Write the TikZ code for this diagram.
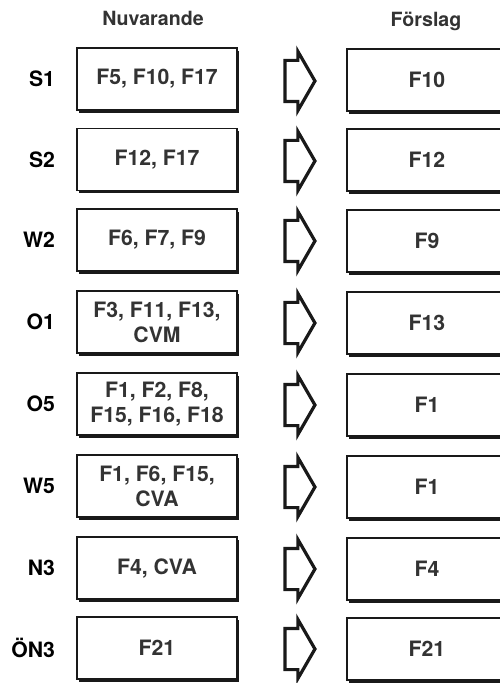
\documentclass[tikz,border=0pt]{standalone}
\usepackage{fontspec}
\setmainfont{TeX Gyre Heros}
\usepackage{tikz}
\usetikzlibrary{shapes.arrows,shadows}

\begin{document}
\begin{tikzpicture}[
  x=0.5pt, y=-0.5pt,
  head/.style={font=\bfseries\fontsize{9.8}{12}\selectfont, text=black!80, anchor=base},
  rowlbl/.style={font=\bfseries\fontsize{10.6}{12.5}\selectfont, anchor=east},
  fbox/.style={rectangle, draw=black!90, line width=0.9pt, fill=white, minimum width=80pt, minimum height=31pt,
    align=center, inner sep=2pt, text=black!80, font=\bfseries\fontsize{10.6}{12.5}\selectfont,
    drop shadow={shadow xshift=0.8pt, shadow yshift=-1.3pt, fill=black!90, opacity=1}},
  bigarr/.style={single arrow, draw=black!90, line width=1.6pt, fill=white, inner xsep=0pt, inner ysep=9.5pt,
    outer sep=0pt, single arrow head extend=4.5pt, single arrow tip angle=120, minimum height=15pt},
]
\useasboundingbox (0,0) rectangle (499,683);

% Headers
\node[head] (hcur) at (153,26) {Nuvarande};
\node[head] (hnew) at (426,27) {Förslag};

% S1
\node[rowlbl] (l1) at (62,79) {S1};
\node[fbox] (c1) at (157,79) {F5, F10, F17};
\node[bigarr] (a1) at (294,81) {};
\node[fbox] (p1) at (427,80) {F10};

% S2
\node[rowlbl] (l2) at (62,159.5) {S2};
\node[fbox] (c2) at (157,159.5) {F12, F17};
\node[bigarr] (a2) at (294,161) {};
\node[fbox] (p2) at (427,160) {F12};

% W2
\node[rowlbl] (l3) at (62,240) {W2};
\node[fbox] (c3) at (157,240) {F6, F7, F9};
\node[bigarr] (a3) at (294,241) {};
\node[fbox] (p3) at (427,241) {F9};

% O1
\node[rowlbl] (l4) at (62,322) {O1};
\node[fbox] (c4) at (157,322) {F3, F11, F13,\\CVM};
\node[bigarr] (a4) at (294,323) {};
\node[fbox] (p4) at (427,323) {F13};

% O5
\node[rowlbl] (l5) at (62,404) {O5};
\node[fbox] (c5) at (157,404) {F1, F2, F8,\\F15, F16, F18};
\node[bigarr] (a5) at (294,405) {};
\node[fbox] (p5) at (427,405) {F1};

% W5
\node[rowlbl] (l6) at (62,486) {W5};
\node[fbox] (c6) at (157,486) {F1, F6, F15,\\CVA};
\node[bigarr] (a6) at (294,487) {};
\node[fbox] (p6) at (427,487) {F1};

% N3
\node[rowlbl] (l7) at (62,568) {N3};
\node[fbox] (c7) at (157,568) {F4, CVA};
\node[bigarr] (a7) at (294,569) {};
\node[fbox] (p7) at (427,569) {F4};

% ÖN3
\node[rowlbl] (l8) at (62,648) {ÖN3};
\node[fbox] (c8) at (157,648) {F21};
\node[bigarr] (a8) at (294,649) {};
\node[fbox] (p8) at (427,649) {F21};

\end{tikzpicture}
\end{document}
